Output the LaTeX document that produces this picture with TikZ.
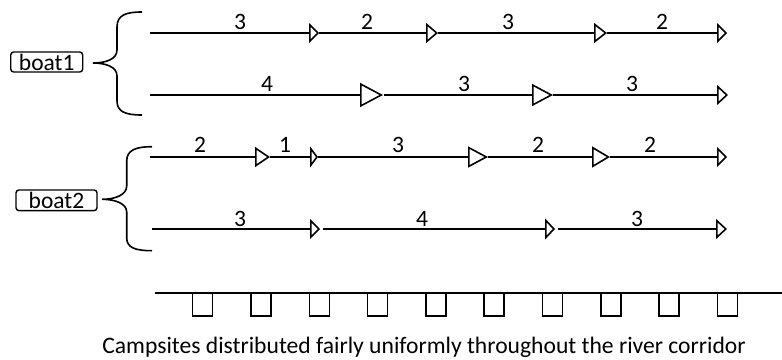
\documentclass[tikz,border=0pt]{standalone}
\usepackage{fontspec}
\setmainfont{Carlito}
\usetikzlibrary{arrows.meta}

\begin{document}
\begin{tikzpicture}[x=1pt,y=-1pt,
  seg/.style={line width=2pt},
  hd/.style 2 args={-{Triangle[open,length=#1pt,width=#2pt,line width=1.6pt]}},
  num/.style={anchor=base,inner sep=0pt,font=\fontsize{23.5}{23.5}\selectfont},
  boat/.style={draw,line width=1.4pt,rounded corners=3pt,inner sep=0pt,
    text height=16pt,text depth=0pt,font=\fontsize{23.5}{23.5}\selectfont},
  brace/.style={line width=1.6pt},
  site/.style={line width=1.5pt}]
\fill[white] (0,0) rectangle (782,359);
\path[use as bounding box] (0,0) rectangle (782,359);

% boats
\node[boat,minimum width=72pt,minimum height=20pt] (boat1) at (46.7,62) {boat1};
\node[boat,minimum width=81pt,minimum height=20.7pt] (boat2) at (56.5,200.3) {boat2};

% braces
\coordinate (b1tip) at (93,63);
\coordinate (b2tip) at (102,199.3);
\draw[brace] (142,12) .. controls (126,12) and (117,15) .. (117,27) -- (117,50)
  .. controls (117,59) and (106,63) .. (b1tip)
  .. controls (106,63) and (117,67) .. (117,76) -- (117,101)
  .. controls (117,112) and (126,115) .. (142,115);
\draw[brace] (152,146.7) .. controls (136,146.7) and (126.7,150) .. (126.7,161) -- (126.7,186)
  .. controls (126.7,195) and (115,199.3) .. (b2tip)
  .. controls (115,199.3) and (126.7,203.5) .. (126.7,212) -- (126.7,238)
  .. controls (126.7,248) and (136,250.7) .. (152,250.7);

% row 1
\coordinate (r1a) at (150,33);
\coordinate (r1b) at (319,33);
\coordinate (r1c) at (438,33);
\coordinate (r1d) at (607,33);
\coordinate (r1e) at (727,33);
\draw[seg,hd={10}{20}] (r1a) -- (r1b);
\draw[seg,hd={12}{20}] (r1b) -- (r1c);
\draw[seg,hd={13}{20}] (r1c) -- (r1d);
\draw[seg,hd={10}{20}] (r1d) -- (r1e);
\node[num] (l11) at (240,29) {3};
\node[num] (l12) at (367,29) {2};
\node[num] (l13) at (508,29) {3};
\node[num] (l14) at (662,29) {2};

% row 2
\coordinate (r2a) at (150,95);
\coordinate (r2b) at (383,95);
\coordinate (r2c) at (384,95);
\coordinate (r2d) at (553,95);
\coordinate (r2e) at (728,95);
\draw[seg,hd={23}{24}] (r2a) -- (r2b);
\draw[seg,hd={21}{22}] (r2c) -- (r2d);
\draw[seg,hd={11}{20}] (r2d) -- (r2e);
\node[num] (l21) at (267,91.5) {4};
\node[num] (l22) at (464,91.5) {3};
\node[num] (l23) at (632,91.5) {3};

% row 3
\coordinate (r3a) at (150,157);
\coordinate (r3b) at (270,157);
\coordinate (r3c) at (318,157);
\coordinate (r3d) at (488,157);
\coordinate (r3e) at (610,157);
\coordinate (r3f) at (727,157);
\draw[seg,hd={15}{20}] (r3a) -- (r3b);
\draw[seg,hd={8}{21}] (r3b) -- (r3c);
\draw[seg,hd={20}{21}] (r3c) -- (r3d);
\draw[seg,hd={18}{21}] (r3d) -- (r3e);
\draw[seg,hd={10}{20}] (r3e) -- (r3f);
\node[num] (l31) at (200,152) {2};
\node[num] (l32) at (285,152) {1};
\node[num] (l33) at (398,152) {3};
\node[num] (l34) at (538,152) {2};
\node[num] (l35) at (650,152) {2};

% row 4
\coordinate (r4a) at (152,229);
\coordinate (r4b) at (320,229);
\coordinate (r4c) at (323,229);
\coordinate (r4d) at (555,229);
\coordinate (r4e) at (558,229);
\coordinate (r4f) at (727,229);
\draw[seg,hd={10}{20}] (r4a) -- (r4b);
\draw[seg,hd={10}{21}] (r4c) -- (r4d);
\draw[seg,hd={11}{20}] (r4e) -- (r4f);
\node[num] (l41) at (240,226.5) {3};
\node[num] (l42) at (422,226.5) {4};
\node[num] (l43) at (637,226.5) {3};

% river bank with campsites
\coordinate (bankL) at (155,292.7);
\coordinate (bankR) at (782,292.7);
\draw[seg] (bankL) -- (bankR);
\foreach \i in {0,...,9} {
  \draw[site] ({192.7+58.3*\i},292.7) -- ++(0,23.3) -- ++(20,0) -- ++(0,-23.3);
}
\node[anchor=base,inner sep=0pt,font=\fontsize{23.6}{23.6}\selectfont] (caption) at (424,353.3)
  {Campsites distributed fairly uniformly throughout the river corridor};
\end{tikzpicture}
\end{document}
